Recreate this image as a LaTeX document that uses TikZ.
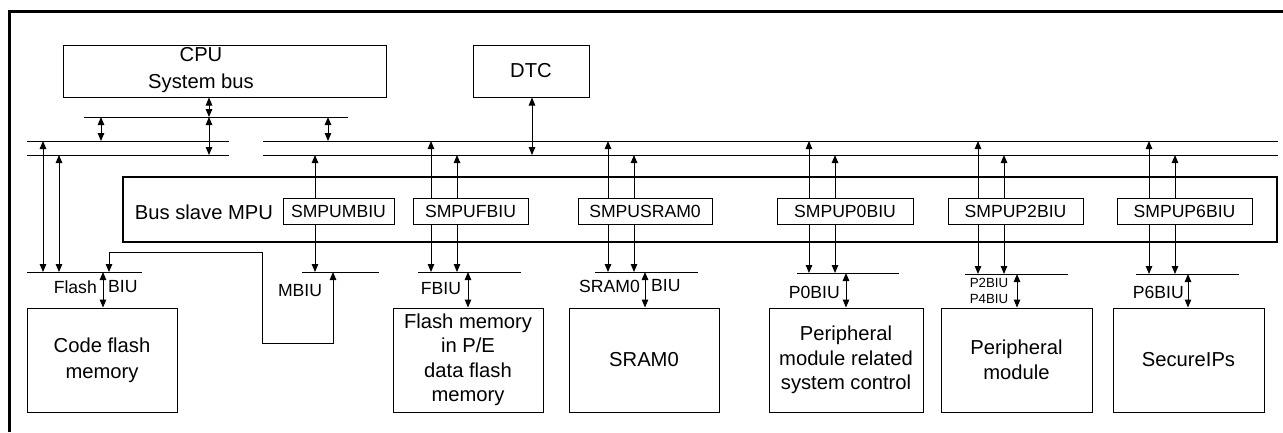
\documentclass[tikz,border=0pt]{standalone}
\usepackage{fontspec}
\setmainfont{Liberation Sans}
\usetikzlibrary{arrows.meta}
\begin{document}
\begin{tikzpicture}[x=1pt,y=-1pt,
  ln/.style={line width=1pt},
  arr/.style={ln,-{Triangle[length=8pt,width=6.5pt]}},
  dbl/.style={ln,{Triangle[length=8pt,width=6.5pt]}-{Triangle[length=8pt,width=6.5pt]}},
  box/.style={draw,line width=1pt,inner sep=0pt,align=center,font=\fontsize{20.2}{24.5}\selectfont},
  sbox/.style={box,font=\fontsize{17.6}{21}\selectfont},
  txt/.style={inner sep=0pt,align=center,font=\fontsize{17.6}{21}\selectfont},
  bigtxt/.style={inner sep=0pt,align=center,font=\fontsize{20.2}{27}\selectfont},
  smalltxt/.style={inner sep=0pt,align=center,font=\fontsize{13.3}{16}\selectfont},
]
\useasboundingbox (0,0) rectangle (1283,432);
% outer frame (top and left edges)
\draw[line width=2.7pt] (9.3,432) -- (9.3,11.3) -- (1283,11.3);

% top boxes
\node[box,minimum width=323pt,minimum height=52pt] (cpu) at (224.5,71) {};
\node[bigtxt] (cputxt) at (201,70.5) {CPU\\System bus};
\node[box,minimum width=116pt,minimum height=52pt] (dtc) at (531,71) {DTC};

% bus slave MPU
\node[draw,line width=2.5pt,minimum width=1154pt,minimum height=65pt,inner sep=0pt] (mpu) at (700,209.5) {};
\node[bigtxt] (mputxt) at (204,212) {Bus slave MPU};
\node[sbox,minimum width=111pt,minimum height=26pt] (smpum) at (338.5,211) {SMPUMBIU};
\node[sbox,minimum width=115pt,minimum height=26pt] (smpuf) at (470.5,211) {SMPUFBIU};
\node[sbox,minimum width=134pt,minimum height=26pt] (smpus) at (645,211) {SMPUSRAM0};
\node[sbox,minimum width=136pt,minimum height=26pt] (smpu0) at (845,211) {SMPUP0BIU};
\node[sbox,minimum width=135pt,minimum height=26pt] (smpu2) at (1015.5,211) {SMPUP2BIU};
\node[sbox,minimum width=135pt,minimum height=26pt] (smpu6) at (1184.5,211) {SMPUP6BIU};

% lower boxes
\node[box,minimum width=150pt,minimum height=104pt,font=\fontsize{20.2}{26}\selectfont] (code) at (102,360) {Code flash\\memory};
\node[box,minimum width=150pt,minimum height=104pt] (fpe) at (468,360) {Flash memory\\in P/E\\data flash\\memory};
\node[box,minimum width=150pt,minimum height=104pt] (sram) at (644,360) {SRAM0};
\node[box,minimum width=154pt,minimum height=104pt] (pmrs) at (846,360) {Peripheral\\module related\\system control};
\node[box,minimum width=151pt,minimum height=104pt] (pm) at (1016.5,360) {Peripheral\\module};
\node[box,minimum width=151pt,minimum height=104pt] (sec) at (1188.5,360) {SecureIPs};

% bus lines
\coordinate (bt) at (84,117);   \coordinate (btE) at (348,117);
\coordinate (l1) at (27,141);   \coordinate (l1E) at (229,141);
\coordinate (l2) at (27,155);   \coordinate (l2E) at (229,155);
\coordinate (r1) at (263,141);  \coordinate (r1E) at (1278,141);
\coordinate (r2) at (263,155);  \coordinate (r2E) at (1278,155);
\coordinate (fl) at (27,272);   \coordinate (flE) at (142,272);
\coordinate (ml) at (302,272);  \coordinate (mlE) at (379,272);
\coordinate (fb) at (418,272);  \coordinate (fbE) at (521,272);
\coordinate (sb) at (595,272);  \coordinate (sbE) at (698,272);
\coordinate (p0) at (797,273);  \coordinate (p0E) at (899,273);
\coordinate (p2) at (965,274);  \coordinate (p2E) at (1068,274);
\coordinate (p6) at (1136,274); \coordinate (p6E) at (1239,274);
\foreach \a/\b in {bt/btE,l1/l1E,l2/l2E,r1/r1E,r2/r2E,fl/flE,ml/mlE,fb/fbE,sb/sbE,p0/p0E,p2/p2E,p6/p6E}
  \draw[ln] (\a) -- (\b);

% columns
\foreach \n/\x in {kc/209,ka/101,kb/328,kd/532,kla/43,klb/59,km/315,kfa/431,kfb/457,ksa/608,ksb/634,
  kza/809,kzb/835,kta/978,ktb/1004,kxa/1149,kxb/1175,kF/103,kFB/468,kSB/645,kP0/846,kP2/1017,kP6/1188,
  kra/109,krb/262,krc/333}
  \coordinate (\n) at (\x,0);
\coordinate (rt) at (0,252);
\coordinate (rb) at (0,343);

% upper connectors
\draw[dbl] (cpu.south -| kc) -- (kc |- bt);
\draw[dbl] (ka |- bt) -- (ka |- l1);
\draw[dbl] (kc |- bt) -- (kc |- l2);
\draw[dbl] (kb |- bt) -- (kb |- r1);
\draw[dbl] (dtc.south -| kd) -- (kd |- r2);
\draw[dbl] (kla |- l1) -- (kla |- fl);
\draw[dbl] (klb |- l2) -- (klb |- fl);
\draw[dbl] (kra |- fl) -- (kra |- rt) -| (krb |- rb) -| (krc |- ml);

% SMPU connectors
\draw[arr] (smpum.north -| km) -- (km |- r2);
\draw[arr] (smpum.south -| km) -- (km |- ml);
\draw[arr] (smpuf.north -| kfa) -- (kfa |- r1);
\draw[arr] (smpuf.north -| kfb) -- (kfb |- r2);
\draw[arr] (smpuf.south -| kfa) -- (kfa |- fb);
\draw[arr] (smpuf.south -| kfb) -- (kfb |- fb);
\draw[arr] (smpus.north -| ksa) -- (ksa |- r1);
\draw[arr] (smpus.north -| ksb) -- (ksb |- r2);
\draw[arr] (smpus.south -| ksa) -- (ksa |- sb);
\draw[arr] (smpus.south -| ksb) -- (ksb |- sb);
\draw[arr] (smpu0.north -| kza) -- (kza |- r1);
\draw[arr] (smpu0.north -| kzb) -- (kzb |- r2);
\draw[arr] (smpu0.south -| kza) -- (kza |- p0);
\draw[arr] (smpu0.south -| kzb) -- (kzb |- p0);
\draw[arr] (smpu2.north -| kta) -- (kta |- r1);
\draw[arr] (smpu2.north -| ktb) -- (ktb |- r2);
\draw[arr] (smpu2.south -| kta) -- (kta |- p2);
\draw[arr] (smpu2.south -| ktb) -- (ktb |- p2);
\draw[arr] (smpu6.north -| kxa) -- (kxa |- r1);
\draw[arr] (smpu6.north -| kxb) -- (kxb |- r2);
\draw[arr] (smpu6.south -| kxa) -- (kxa |- p6);
\draw[arr] (smpu6.south -| kxb) -- (kxb |- p6);

% BIU to memories
\draw[dbl] (kF |- fl) -- (code.north -| kF);
\draw[dbl] (kFB |- fb) -- (fpe.north -| kFB);
\draw[dbl] (kSB |- sb) -- (sram.north -| kSB);
\draw[dbl] (kP0 |- p0) -- (pmrs.north -| kP0);
\draw[dbl] (kP2 |- p2) -- (pm.north -| kP2);
\draw[dbl] (kP6 |- p6) -- (sec.north -| kP6);

% BIU labels
\node[txt,anchor=east] (flashlbl) at (97,287) {Flash};
\node[txt,anchor=west] (biulbl) at (108,287) {BIU};
\node[txt] (mbiu) at (300,291) {MBIU};
\node[txt] (fbiu) at (441,289) {FBIU};
\node[txt,anchor=east] (sramlbl) at (640,286) {SRAM0};
\node[txt,anchor=west] (sbiu) at (651,286) {BIU};
\node[txt,anchor=east] (p0biu) at (840,292) {P0BIU};
\node[smalltxt] (p2biu) at (989,283) {P2BIU};
\node[smalltxt] (p4biu) at (989,299) {P4BIU};
\node[txt,anchor=east] (p6biu) at (1184,292) {P6BIU};
\end{tikzpicture}
\end{document}
